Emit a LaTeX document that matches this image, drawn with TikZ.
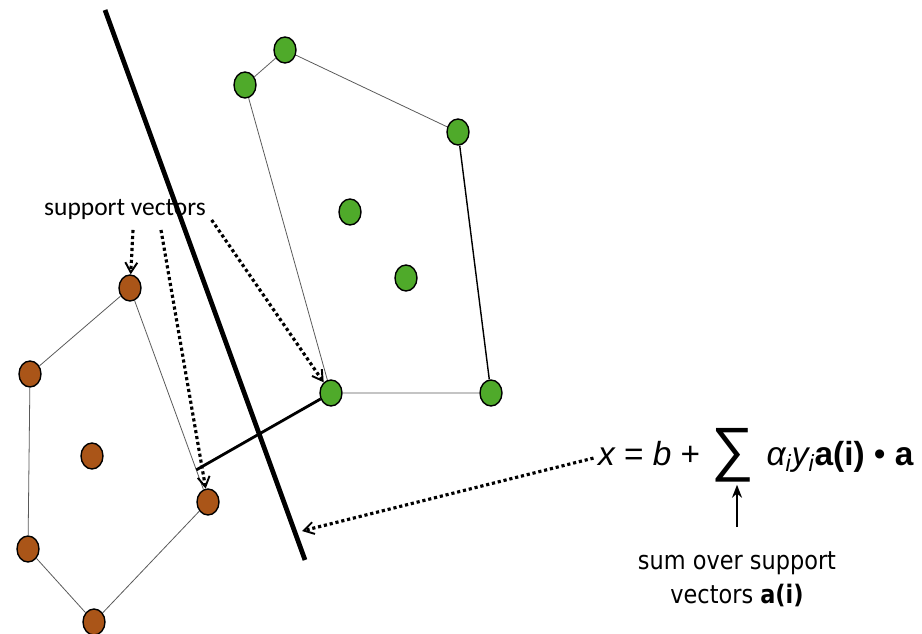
\documentclass[tikz,border=0pt]{standalone}
\usepackage{fontspec}
\usepackage{tikz}
\usetikzlibrary{arrows.meta,shapes.geometric,calc}
\newfontfamily\lblfont{Carlito}
\newfontfamily\eqfont{Liberation Sans}
\newfontfamily\notefont[FakeStretch=0.88]{DejaVu Sans}
\definecolor{ptgreen}{HTML}{4FAA2A}
\definecolor{ptbrown}{HTML}{AA5518}

\begin{document}
\begin{tikzpicture}[x=0.02cm,y=-0.02cm,
  pt/.style={ellipse,draw=black,line width=0.8pt,minimum width=4.4mm,
             minimum height=5.2mm,inner sep=0pt},
  g/.style={pt,fill=ptgreen},
  b/.style={pt,fill=ptbrown},
  hull/.style={gray!70!black,line width=0.45pt},
  sv/.style={dash pattern=on 1.8pt off 1.6pt,line width=1.8pt,
             -{Straight Barb[length=2mm,width=2.4mm,line width=1.1pt]}},
  eq/.style={font=\eqfont\fontsize{19}{19}\selectfont,inner sep=1pt}]
  \useasboundingbox (0,0) rectangle (922,634);
  % green class
  \node[g] (g1) at (285,50)  {};
  \node[g] (g2) at (245,85)  {};
  \node[g] (g3) at (458,132) {};
  \node[g] (g4) at (350,212) {};
  \node[g] (g5) at (406,278) {};
  \node[g] (g6) at (331,393) {};
  \node[g] (g7) at (491,393) {};
  % brown class
  \node[b] (b1) at (130,288) {};
  \node[b] (b2) at (30,374)  {};
  \node[b] (b3) at (92,456)  {};
  \node[b] (b4) at (208,502) {};
  \node[b] (b5) at (28,549)  {};
  \node[b] (b6) at (94,622)  {};
  % hulls
  \draw[hull] (g2)--(g1)--(g3); \draw[hull] (g7)--(g6)--(g2);
  \draw[black,line width=0.8pt] (g3)--(g7);
  \draw[hull] (b1)--(b2)--(b5)--(b6)--(b4)--(b1);
  % separator and margin
  \coordinate (top) at (105,10);
  \coordinate (bot) at (305,560);
  \draw[line width=2.7pt] (top)--(bot);
  \coordinate (foot) at ($(b1)!0.85!(b4)$);
  \draw[line width=1.6pt] (foot)--(g6);
  % labels
  \node[font=\lblfont\fontsize{14.5}{16}\selectfont,inner sep=2pt] (lbl) at (125,210) {support vectors};
  \draw[sv] ($(lbl.south)+(8,6)$) -- (b1);
  \draw[sv] ($(lbl.south)+(36,6)$) -- (b4);
  \draw[sv] ($(lbl.south east)+(2,-4)$) -- (g6);
  \node[eq,anchor=base west] (lhs) at (596,465) {\itshape x\upshape{} = \itshape b\upshape{} +};
  \node[eq,anchor=base west,font=\eqfont\fontsize{34}{34}\selectfont] (sum)
    at ([xshift=1.5mm,yshift=-1mm]lhs.base east) {∑};
  \node[eq,anchor=base west] (rhs) at ([xshift=1.6mm,yshift=1mm]sum.base east)
    {\itshape α\textsubscript{i}y\textsubscript{i}\upshape\bfseries a(i) \mdseries• \bfseries a};
  \coordinate (hit) at (302,531);
  \draw[sv] ([xshift=-0.5mm,yshift=-1mm]lhs.west) -- (hit);
  \node[font=\notefont\fontsize{14.5}{19}\selectfont,align=center,anchor=north,inner sep=2pt]
    (note) at (737,548) {sum over support\\vectors \textbf{a(i)}};
  \draw[line width=1pt,-{Stealth[length=2.6mm,width=2mm]},shorten <=4.2mm]
    (note.north) -- (note.north |- sum.south);
\end{tikzpicture}
\end{document}
